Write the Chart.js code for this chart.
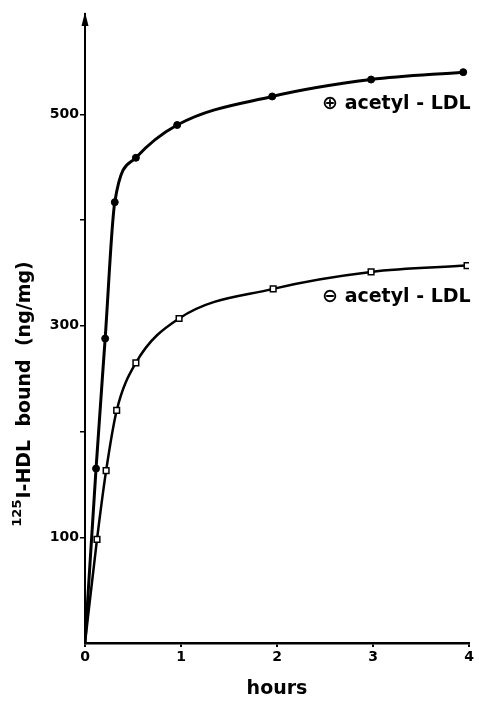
<!DOCTYPE html>
<html>
<head>
<meta charset="utf-8">
<script src="https://cdn.jsdelivr.net/npm/chart.js@4/dist/chart.umd.min.js"></script>
<style>
  html, body { margin: 0; padding: 0; background: #fff; }
  #wrap { width: 479px; height: 704px; }
</style>
</head>
<body>
<div id="wrap"><canvas id="chart" width="479" height="704"></canvas></div>
<script>
// time points (hours)
const hoursPlus = [0, 0.115, 0.21, 0.31, 0.53, 0.96, 1.95, 2.98, 3.94];
const hoursMinus = [0, 0.125, 0.22, 0.33, 0.53, 0.98, 1.96, 2.98, 3.98];
// 125I-HDL bound (ng/mg)
const boundPlus = [0, 165, 288, 417, 459, 490, 517, 533, 540];
const boundMinus = [0, 98, 163, 220, 265, 307, 335, 351, 357];
const xTicks = [0, 1, 2, 3, 4];
const yTicks = [100, 200, 300, 400, 500];
const yTickLabels = [100, 300, 500];
const seriesLabels = ['\u2295 acetyl - LDL', '\u2296 acetyl - LDL'];

const toPoints = (xs, ys) => xs.map((x, i) => ({ x: x, y: ys[i] }));

// text next to each curve, y title with superscript, arrow head on the y axis
const annotate = {
    id: 'annotate',
    afterDatasetsDraw(chart) {
        const ctx = chart.ctx;
        const xs = chart.scales.x, ys = chart.scales.y;
        ctx.save();
        ctx.fillStyle = '#000';
        ctx.font = 'bold 19px "DejaVu Sans", sans-serif';
        ctx.textBaseline = 'middle';
        ctx.fillText(seriesLabels[0], xs.getPixelForValue(2.47), ys.getPixelForValue(510));
        ctx.fillText(seriesLabels[1], xs.getPixelForValue(2.47), ys.getPixelForValue(327));

        // y axis title
        ctx.save();
        ctx.translate(30, ys.getPixelForValue(110));
        ctx.rotate(-Math.PI / 2);
        ctx.textBaseline = 'alphabetic';
        ctx.textAlign = 'left';
        ctx.font = 'bold 13px "DejaVu Sans", sans-serif';
        ctx.fillText('125', 0, -9);
        const w = ctx.measureText('125').width;
        ctx.font = 'bold 19px "DejaVu Sans", sans-serif';
        ctx.fillText('I-HDL  bound  (ng/mg)', w + 1, 0);
        ctx.restore();

        // arrow
        const ax = chart.chartArea.left, ay = chart.chartArea.top;
        ctx.beginPath();
        ctx.moveTo(ax, ay - 2);
        ctx.lineTo(ax - 3.5, ay + 12);
        ctx.lineTo(ax + 3.5, ay + 12);
        ctx.closePath();
        ctx.fill();
        ctx.restore();
    }
};

new Chart(document.getElementById('chart').getContext('2d'), {
    type: 'line',
    data: {
        datasets: [
            {
                label: seriesLabels[0],
                data: toPoints(hoursPlus, boundPlus),
                borderColor: '#000',
                borderWidth: 3,
                backgroundColor: '#000',
                pointBackgroundColor: '#000',
                pointRadius: [0, 3.5, 3.5, 3.5, 3.5, 3.5, 3.5, 3.5, 3.5],
                pointBorderWidth: 1,
                cubicInterpolationMode: 'monotone',
                fill: false
            },
            {
                label: seriesLabels[1],
                data: toPoints(hoursMinus, boundMinus),
                borderColor: '#000',
                borderWidth: 2.5,
                pointStyle: 'rect',
                pointBackgroundColor: '#fff',
                pointRadius: [0, 4, 4, 4, 4, 4, 4, 4, 4],
                pointBorderWidth: 1.5,
                cubicInterpolationMode: 'monotone',
                fill: false
            }
        ]
    },
    options: {
        responsive: false,
        animation: false,
        layout: { padding: { left: 0, right: 10, top: 14, bottom: 0 } },
        plugins: {
            legend: { display: false },
            tooltip: { enabled: false }
        },
        scales: {
            x: {
                type: 'linear',
                min: 0,
                max: 4,
                afterFit: (scale) => { scale.height = 61; },
                afterBuildTicks: (scale) => { scale.ticks = xTicks.map(v => ({ value: v })); },
                border: { color: '#000', width: 2.5 },
                grid: { drawOnChartArea: false, drawTicks: true, tickLength: 4, color: '#000', lineWidth: 2 },
                ticks: {
                    color: '#000',
                    padding: 2,
                    font: { family: '"DejaVu Sans", sans-serif', size: 14, weight: 'bold' }
                },
                title: {
                    display: true,
                    text: 'hours',
                    color: '#000',
                    padding: { top: 6 },
                    font: { family: '"DejaVu Sans", sans-serif', size: 19, weight: 'bold' }
                }
            },
            y: {
                type: 'linear',
                min: 0,
                max: 595,
                afterFit: (scale) => { scale.width = 85; },
                afterBuildTicks: (scale) => { scale.ticks = yTicks.map(v => ({ value: v })); },
                border: { color: '#000', width: 2 },
                grid: { drawOnChartArea: false, drawTicks: true, tickLength: 5, color: '#000', lineWidth: 1.5 },
                ticks: {
                    autoSkip: false,
                    color: '#000',
                    padding: 1,
                    font: { family: '"DejaVu Sans", sans-serif', size: 14, weight: 'bold' },
                    callback: (v) => (yTickLabels.indexOf(Number(v)) >= 0 ? String(v) : '')
                }
            }
        }
    },
    plugins: [annotate]
});
</script>
</body>
</html>
